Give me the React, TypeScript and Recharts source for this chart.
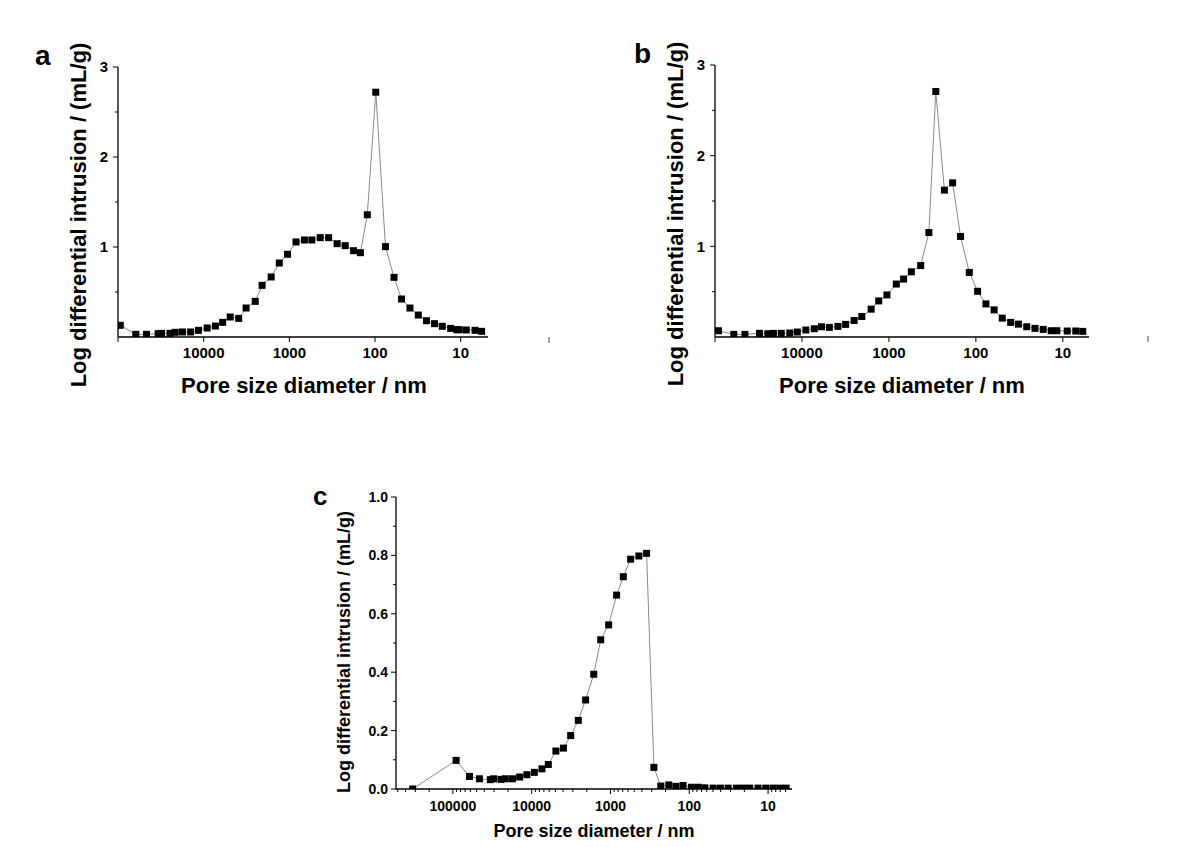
import React from 'react';
import { LineChart, Line, XAxis, YAxis } from 'recharts';

const FONT = '"Liberation Sans", Arial, Helvetica, sans-serif';

// ---------- Panel a ----------
const aDiameter = [94000, 62000, 46500, 34000, 31000, 24700, 21500, 17700, 14200, 11500, 9100, 7300, 6000, 4900, 3900, 3200, 2500, 2080, 1630, 1310, 1050, 836, 667, 546, 436, 348, 277, 223, 178, 148, 123, 98, 75.5, 60, 49, 39.1, 31.2, 25.1, 20.2, 16.4, 13.1, 11.1, 10.4, 8.6, 6.8, 5.7];
const aIntrusion = [0.13, 0.03, 0.03, 0.037, 0.04, 0.041, 0.052, 0.056, 0.056, 0.074, 0.1, 0.122, 0.163, 0.222, 0.207, 0.322, 0.396, 0.574, 0.667, 0.822, 0.919, 1.056, 1.078, 1.078, 1.104, 1.104, 1.037, 1.015, 0.959, 0.937, 1.358, 2.72, 1.004, 0.663, 0.422, 0.322, 0.244, 0.181, 0.148, 0.119, 0.096, 0.081, 0.081, 0.078, 0.074, 0.063];

// ---------- Panel b ----------
const bDiameter = [91200, 60800, 45300, 30800, 24700, 21300, 17300, 13800, 11300, 9020, 7210, 5960, 4840, 3860, 3150, 2510, 2050, 1600, 1310, 1054, 822, 678, 552, 431, 347, 289, 230, 185, 150, 119, 95.5, 76.6, 61.7, 49.7, 39.8, 32.4, 26.0, 20.9, 16.8, 13.6, 11.7, 8.9, 7.1, 5.9];
const bIntrusion = [0.069, 0.029, 0.029, 0.04, 0.036, 0.04, 0.04, 0.044, 0.055, 0.077, 0.091, 0.113, 0.106, 0.117, 0.139, 0.182, 0.226, 0.307, 0.398, 0.464, 0.584, 0.639, 0.719, 0.788, 1.152, 2.708, 1.62, 1.7, 1.109, 0.712, 0.504, 0.365, 0.299, 0.208, 0.161, 0.142, 0.113, 0.095, 0.084, 0.069, 0.069, 0.066, 0.066, 0.062];

// ---------- Panel c ----------
const cDiameter = [324000, 91000, 61500, 46000, 33500, 30400, 24500, 21600, 17500, 14200, 11500, 9250, 7400, 6150, 4930, 3950, 3200, 2560, 2070, 1630, 1330, 1055, 836, 687, 555, 436, 348, 281, 230, 182, 148, 120, 94, 77, 63.5, 49.8, 40.2, 32.1, 25.2, 20.7, 17.1, 13.4, 10.7, 8.65, 7.1, 5.9];
const cIntrusion = [0.0, 0.098, 0.043, 0.035, 0.032, 0.035, 0.033, 0.035, 0.035, 0.041, 0.049, 0.057, 0.069, 0.084, 0.13, 0.14, 0.183, 0.235, 0.305, 0.393, 0.511, 0.562, 0.664, 0.727, 0.787, 0.798, 0.807, 0.074, 0.01, 0.014, 0.009, 0.012, 0.006, 0.006, 0.004, 0.003, 0.003, 0.003, 0.003, 0.003, 0.003, 0.003, 0.003, 0.003, 0.003, 0.003];

// ---------- Ticks ----------
const abXMajor = [100000, 10000, 1000, 100, 10];
const abXLabels = [10000, 1000, 100, 10];
const abYMajor = [1, 2, 3];
const abYMinor = [0.5, 1.5, 2.5];

const cXMajor = [100000, 10000, 1000, 100, 10];
const cXLabels = [100000, 10000, 1000, 100, 10];
const cXMinor = [500000, 400000, 300000, 200000, 90000, 80000, 70000, 60000, 50000, 40000, 30000, 20000, 9000, 8000, 7000, 6000, 5000, 4000, 3000, 2000, 900, 800, 700, 600, 500, 400, 300, 200, 90, 80, 70, 60, 50, 40, 30, 20, 9, 8, 7, 6];
const cYMajor = [0, 0.2, 0.4, 0.6, 0.8, 1.0];
const cYMinor = [0.1, 0.3, 0.5, 0.7, 0.9];

const ML = 60;
const MT = 12;
const MR = 12;
const MB = 40;

type PanelProps = {
  left: number;
  top: number;
  width: number;
  height: number;
  xs: number[];
  ys: number[];
  xDomain: [number, number];
  yDomain: [number, number];
  xMajor: number[];
  xMinor: number[];
  xLabels: number[];
  yMajor: number[];
  yMinor: number[];
  yDigits: number;
  tickFont: number;
  xLabelDy: number;
  yLabelDx: number;
};

function Panel(p: PanelProps) {
  const data = p.xs.map((d, i) => ({ d, v: p.ys[i] }));
  const plotBottom = MT + p.height;

  const xTick = (t: any) => {
    const v = t.payload.value;
    const major = p.xMajor.includes(v);
    const label = p.xLabels.includes(v);
    return (
      <g key={`xt-${v}`}>
        <line x1={t.x} x2={t.x} y1={t.y} y2={t.y + (major ? 5 : 3)} stroke="#000" strokeWidth={1} />
        {label && (
          <text x={t.x} y={t.y + p.xLabelDy} textAnchor="middle" fontFamily={FONT} fontWeight="bold" fontSize={p.tickFont} fill="#000">
            {String(v)}
          </text>
        )}
      </g>
    );
  };

  const yTick = (t: any) => {
    const v = t.payload.value;
    const major = p.yMajor.includes(v);
    return (
      <g key={`yt-${v}`}>
        <line x1={t.x - (major ? 5 : 3)} x2={t.x} y1={t.y} y2={t.y} stroke="#000" strokeWidth={1} />
        {major && (
          <text x={t.x - p.yLabelDx} y={t.y} dy="0.36em" textAnchor="end" fontFamily={FONT} fontWeight="bold" fontSize={p.tickFont} fill="#000">
            {v.toFixed(p.yDigits)}
          </text>
        )}
      </g>
    );
  };

  const dot = (d: any) => {
    const s = 7;
    const y1 = d.cy - s / 2;
    const y2 = Math.min(d.cy + s / 2, plotBottom);
    return <rect key={`dot-${d.index}`} x={d.cx - s / 2} y={y1} width={s} height={Math.max(0, y2 - y1)} fill="#000" />;
  };

  return (
    <div style={{ position: 'absolute', left: p.left - ML, top: p.top - MT }}>
      <LineChart
        width={p.width + ML + MR}
        height={p.height + MT + MB}
        data={data}
        margin={{ top: MT, right: MR, bottom: 0, left: 0 }}
      >
        <XAxis
          dataKey="d"
          type="number"
          scale="log"
          domain={p.xDomain}
          reversed
          allowDataOverflow
          ticks={[...p.xMajor, ...p.xMinor]}
          interval={0}
          height={MB}
          tickLine={false}
          tickSize={0}
          tickMargin={0}
          stroke="#000"
          axisLine={{ stroke: '#000', strokeWidth: 1.3 }}
          tick={xTick}
        />
        <YAxis
          type="number"
          domain={p.yDomain}
          allowDataOverflow
          ticks={[...p.yMajor, ...p.yMinor]}
          interval={0}
          width={ML}
          tickLine={false}
          tickSize={0}
          tickMargin={0}
          stroke="#000"
          axisLine={{ stroke: '#000', strokeWidth: 1.3 }}
          tick={yTick}
        />
        <Line
          type="linear"
          dataKey="v"
          stroke="#8a8a8a"
          strokeWidth={1}
          dot={dot}
          activeDot={false}
          isAnimationActive={false}
        />
      </LineChart>
    </div>
  );
}

const titleStyle = { fontFamily: FONT, fontWeight: 'bold' as const, fill: '#000' };

export default function App() {
  return (
    <div style={{ position: 'absolute', left: 0, top: 0, width: 1192, height: 847, background: '#fff', overflow: 'hidden' }}>
      <svg width={1192} height={847} style={{ position: 'absolute', left: 0, top: 0 }}>
        {/* panel letters */}
        <text x={35} y={65} fontSize={28} {...titleStyle}>a</text>
        <text x={634} y={63} fontSize={28} {...titleStyle}>b</text>
        <text x={313} y={505} fontSize={26} {...titleStyle}>c</text>

        {/* panel a titles */}
        <text x={304} y={393} fontSize={22} textAnchor="middle" {...titleStyle}>Pore size diameter / nm</text>
        <text x={86} y={215} fontSize={22} textAnchor="middle" transform="rotate(-90 86 215)" {...titleStyle}>Log differential intrusion / (mL/g)</text>

        {/* panel b titles */}
        <text x={902} y={393} fontSize={22} textAnchor="middle" {...titleStyle}>Pore size diameter / nm</text>
        <text x={683} y={214} fontSize={22} textAnchor="middle" transform="rotate(-90 683 214)" {...titleStyle}>Log differential intrusion / (mL/g)</text>

        {/* panel c titles */}
        <text x={594} y={837} fontSize={18} textAnchor="middle" {...titleStyle}>Pore size diameter / nm</text>
        <text x={350} y={652} fontSize={18} textAnchor="middle" transform="rotate(-90 350 652)" {...titleStyle}>Log differential intrusion / (mL/g)</text>

        {/* stray marks in the original scan */}
        <line x1={549} x2={549} y1={337} y2={343} stroke="#444" strokeWidth={1} />
        <line x1={1148} x2={1148} y1={336} y2={342} stroke="#444" strokeWidth={1} />
      </svg>

      <Panel
        left={118}
        top={67}
        width={370}
        height={270}
        xs={aDiameter}
        ys={aIntrusion}
        xDomain={[4.8, 100000]}
        yDomain={[0, 3]}
        xMajor={abXMajor}
        xMinor={[]}
        xLabels={abXLabels}
        yMajor={abYMajor}
        yMinor={abYMinor}
        yDigits={0}
        tickFont={15}
        xLabelDy={21}
        yLabelDx={10}
      />
      <Panel
        left={715}
        top={65}
        width={374}
        height={272}
        xs={bDiameter}
        ys={bIntrusion}
        xDomain={[5, 100000]}
        yDomain={[0, 3]}
        xMajor={abXMajor}
        xMinor={[]}
        xLabels={abXLabels}
        yMajor={abYMajor}
        yMinor={abYMinor}
        yDigits={0}
        tickFont={15}
        xLabelDy={21}
        yLabelDx={10}
      />
      <Panel
        left={396}
        top={497}
        width={396}
        height={292}
        xs={cDiameter}
        ys={cIntrusion}
        xDomain={[4.97, 527000]}
        yDomain={[0, 1]}
        xMajor={cXMajor}
        xMinor={cXMinor}
        xLabels={cXLabels}
        yMajor={cYMajor}
        yMinor={cYMinor}
        yDigits={1}
        tickFont={14}
        xLabelDy={22}
        yLabelDx={8}
      />
    </div>
  );
}
